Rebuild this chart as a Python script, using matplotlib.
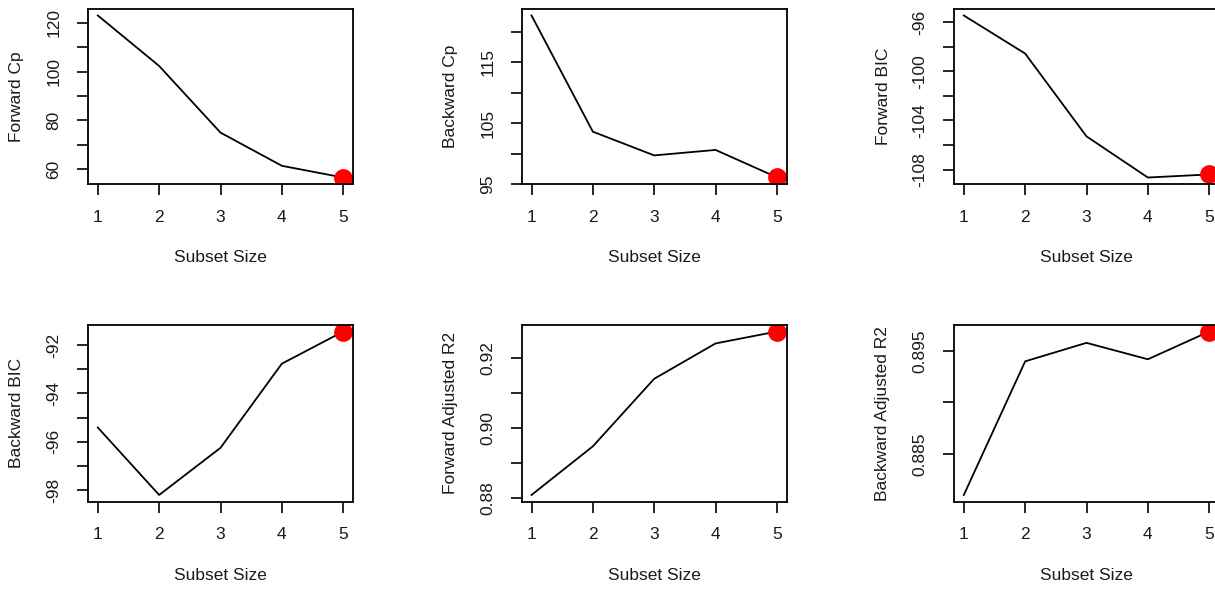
import matplotlib
matplotlib.use("Agg")
import matplotlib.pyplot as plt

plt.rcParams['font.family'] = ['Liberation Sans', 'DejaVu Sans']

# -----------------------------
# data
# -----------------------------
subset_size = [1, 2, 3, 4, 5]

forward_cp = [123.0, 102.3, 75.0, 61.4, 56.6]
backward_cp = [122.7, 103.6, 99.7, 100.6, 96.1]
forward_bic = [-95.46, -98.56, -105.3, -108.65, -108.4]
backward_bic = [-95.41, -98.2, -96.25, -92.77, -91.44]
forward_adjr2 = [0.881, 0.8949, 0.9142, 0.9243, 0.9277]
backward_adjr2 = [0.881, 0.8940, 0.8958, 0.8942, 0.8969]

ylabels = ["Forward Cp", "Backward Cp", "Forward BIC",
           "Backward BIC", "Forward Adjusted R2", "Backward Adjusted R2"]

# y tick positions, and which of them carry a label
yticks = [
    [60, 70, 80, 90, 100, 110, 120],
    [95, 100, 105, 110, 115, 120],
    [-108, -106, -104, -102, -100, -98, -96],
    [-98, -97, -96, -95, -94, -93, -92],
    [0.88, 0.89, 0.90, 0.91, 0.92],
    [0.885, 0.890, 0.895],
]
ytick_labels = [
    ["60", "", "80", "", "100", "", "120"],
    ["95", "", "105", "", "115", ""],
    ["-108", "", "-104", "", "-100", "", "-96"],
    ["-98", "", "-96", "", "-94", "", "-92"],
    ["0.88", "", "0.90", "", "0.92"],
    ["0.885", "", "0.895"],
]
best_size = [5, 5, 5, 5, 5, 5]

series = [forward_cp, backward_cp, forward_bic,
          backward_bic, forward_adjr2, backward_adjr2]

# -----------------------------
# layout (pixels, R-like panels)
# -----------------------------
W, H = 1215, 590
fig = plt.figure(figsize=(W / 100, H / 100), dpi=100)

col_left = [88, 521.7, 954]
row_top = [9, 325]
row_h = [175, 176.5]
panel_w = 265

TXT = '#1a1a1a'
FS = 12.5

for i, vals in enumerate(series):
    r, c = divmod(i, 3)
    rect = [col_left[c] / W, 1 - (row_top[r] + row_h[r]) / H,
            panel_w / W, row_h[r] / H]
    ax = fig.add_axes(rect)

    ax.plot(subset_size, vals, color='black', lw=1.3)
    b = best_size[i]
    ax.plot([b], [vals[subset_size.index(b)]], 'o', color='red',
            markersize=13.5, markeredgewidth=0)

    # R style axis extension of 4%
    lo, hi = min(vals), max(vals)
    pad = (hi - lo) * 0.04
    ax.set_ylim(lo - pad, hi + pad)
    ax.set_xlim(1 - 0.16, 5 + 0.16)

    ax.set_xticks(subset_size)
    ax.set_xticklabels([str(s) for s in subset_size])
    ax.set_yticks(yticks[i])
    ax.set_yticklabels(ytick_labels[i])

    ax.tick_params(direction='out', length=8, width=1.2, colors='black',
                   labelcolor=TXT, labelsize=FS)
    ax.tick_params(axis='x', pad=10.5)
    ax.tick_params(axis='y', labelrotation=90, pad=11)
    for lab in ax.get_yticklabels():
        lab.set_va('center')

    for sp in ax.spines.values():
        sp.set_linewidth(1.3)
        sp.set_color('black')

    ax.set_xlabel("Subset Size", fontsize=FS, color=TXT, va='center')
    ax.set_ylabel(ylabels[i], fontsize=FS, color=TXT, va='center')
    ax.xaxis.set_label_coords(0.5, -74 / row_h[r])
    ax.yaxis.set_label_coords(-71 / panel_w, 0.5)

plt.savefig("out.png", dpi=100)
plt.close(fig)
